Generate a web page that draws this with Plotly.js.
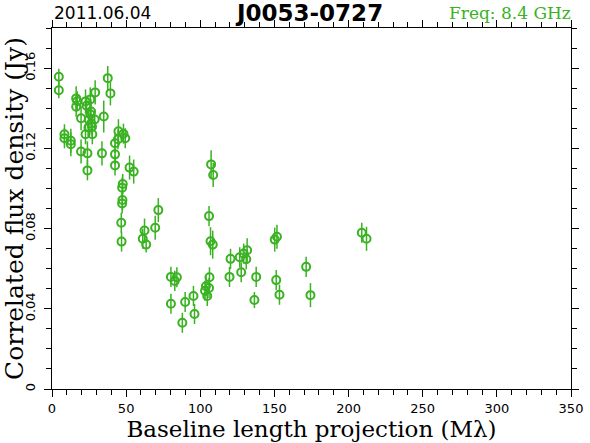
<!DOCTYPE html>
<html>
<head>
<meta charset="utf-8">
<script src="https://cdn.plot.ly/plotly-3.0.1.min.js"></script>
<style>html,body{margin:0;padding:0;background:#fff;}#chart{width:590px;height:443px;}</style>
</head>
<body>
<div id="chart"></div>
<script>
// Baseline length projection (Mλ)
const uvDist = [4.6,4.6,8.4,8.4,12.7,12.7,16.3,17.0,16.3,19.6,19.6,22.6,23.3,25.8,26.3,25.8,24.8,26.4,24.6,27.0,22.6,27.2,29.1,28.8,23.9,23.9,33.7,34.9,37.6,39.4,42.5,42.5,42.5,44.8,48.2,49.4,44.5,52.3,55.1,47.7,47.3,47.5,47.3,46.7,46.9,62.4,61.2,63.5,69.6,71.7,80.2,84.2,82.8,80.2,89.8,95.4,96.1,87.9,103.2,104.7,103.8,105.9,106.2,107.3,108.7,105.9,106.9,108.4,120.4,119.7,126.6,129.3,131.6,131.0,127.6,137.7,136.5,150.2,151.7,151.2,153.4,171.4,174.3,208.9,212.1];
// Correlated flux density (Jy)
const fluxJy = [0.1557,0.149,0.127,0.125,0.1238,0.122,0.1449,0.1435,0.1407,0.135,0.1184,0.1434,0.1412,0.1444,0.1384,0.137,0.1342,0.1324,0.1304,0.1308,0.127,0.127,0.1479,0.1344,0.1175,0.109,0.1175,0.1359,0.155,0.1474,0.1225,0.117,0.1115,0.1285,0.1273,0.125,0.1245,0.1104,0.1084,0.1022,0.1004,0.0942,0.0925,0.0829,0.0735,0.079,0.0749,0.072,0.0804,0.0892,0.0559,0.0557,0.0539,0.0425,0.0434,0.0464,0.0374,0.033,0.049,0.0464,0.0512,0.0504,0.0557,0.112,0.1067,0.0862,0.0737,0.072,0.0649,0.0559,0.0657,0.0675,0.0692,0.0647,0.0582,0.0559,0.0444,0.0745,0.0759,0.0543,0.047,0.0609,0.0468,0.0779,0.0749];
// 1-sigma errors (Jy)
const fluxErr = [0.004,0.004,0.005,0.005,0.006,0.006,0.006,0.005,0.005,0.006,0.006,0.006,0.005,0.006,0.006,0.005,0.005,0.005,0.005,0.005,0.005,0.005,0.006,0.005,0.006,0.005,0.006,0.008,0.006,0.006,0.005,0.005,0.005,0.006,0.005,0.005,0.005,0.006,0.006,0.005,0.005,0.005,0.005,0.005,0.005,0.006,0.005,0.004,0.006,0.006,0.005,0.005,0.005,0.005,0.005,0.005,0.005,0.005,0.005,0.005,0.005,0.005,0.005,0.007,0.006,0.005,0.007,0.007,0.005,0.005,0.005,0.005,0.006,0.005,0.005,0.005,0.004,0.006,0.006,0.005,0.005,0.005,0.006,0.005,0.006];

const sourceName = "J0053-0727";
const obsDate = "2011.06.04";
const freqLabel = "Freq: 8.4 GHz";
const xTitle = "Baseline length projection (Mλ)";
const yTitle = "Correlated flux density (Jy)";

const green = "rgb(58,178,34)";

const trace = {
  type: "scatter",
  mode: "markers",
  x: uvDist,
  y: fluxJy,
  error_y: {type: "data", array: fluxErr, visible: true, color: green, thickness: 1.5, width: 0},
  marker: {symbol: "circle-open", size: 8, color: green, line: {width: 2, color: green}},
  hoverinfo: "x+y"
};

const axisCommon = {
  showline: true, linecolor: "#000", linewidth: 1, mirror: "ticks",
  ticks: "outside", ticklen: 7, tickcolor: "#000", tickwidth: 1,
  showgrid: false, zeroline: false,
  tickfont: {family: "DejaVu Sans", size: 13, color: "#000"}
};

const layout = {
  width: 590, height: 443,
  margin: {l: 52, r: 19, t: 28, b: 54, pad: 0},
  paper_bgcolor: "#fff", plot_bgcolor: "#fff",
  showlegend: false,
  xaxis: Object.assign({}, axisCommon, {
    range: [0, 350], tickmode: "linear", tick0: 0, dtick: 50,
    minor: {dtick: 10, ticks: "outside", ticklen: 5, tickcolor: "#000"},
    title: {text: xTitle, standoff: 4, font: {family: "DejaVu Serif", size: 23, color: "#000"}}
  }),
  yaxis: Object.assign({}, axisCommon, {
    range: [0, 0.18], tickmode: "linear", tick0: 0, dtick: 0.04, tickangle: -90,
    ticklabelstandoff: 4,
    minor: {dtick: 0.01, ticks: "outside", ticklen: 5, tickcolor: "#000"},
    title: {text: yTitle, standoff: 2, font: {family: "DejaVu Serif", size: 25, color: "#000"}}
  }),
  annotations: [
    {text: sourceName, xref: "paper", yref: "paper", x: 0.495, y: 1, xanchor: "center", yanchor: "middle",
     yshift: 15, showarrow: false, font: {family: "DejaVu Sans", size: 23, color: "#000", weight: "bold"}},
    {text: obsDate, xref: "paper", yref: "paper", x: 0, y: 1, xanchor: "left", yanchor: "bottom",
     yshift: 3, showarrow: false, font: {family: "DejaVu Sans", size: 17, color: "#000"}},
    {text: freqLabel, xref: "paper", yref: "paper", x: 1, y: 1, xanchor: "right", yanchor: "bottom",
     yshift: 3, xshift: 2, showarrow: false, font: {family: "DejaVu Serif", size: 17, color: green}}
  ]
};

Plotly.newPlot("chart", [trace], layout, {staticPlot: true, displayModeBar: false});
</script>
</body>
</html>
